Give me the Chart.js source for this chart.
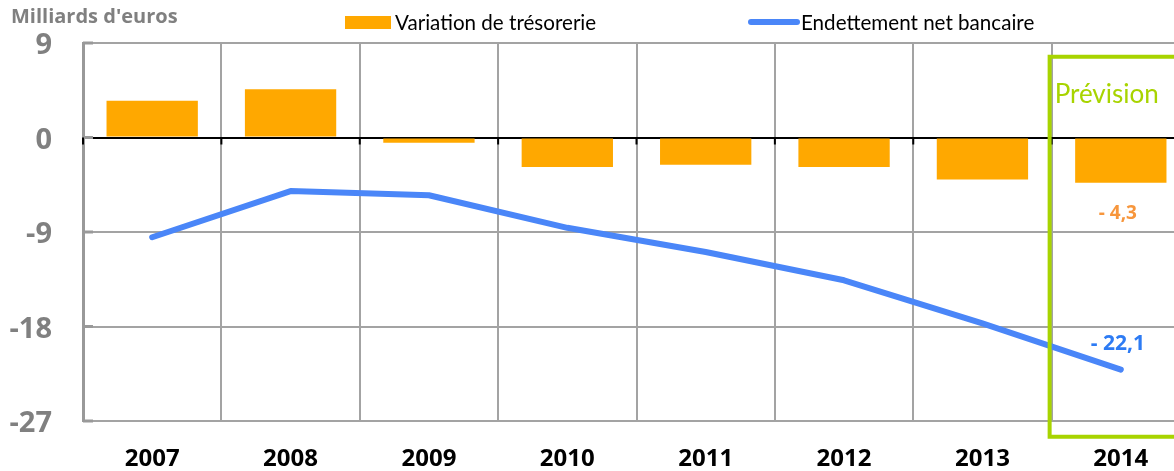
<!DOCTYPE html>
<html lang="fr">
<head>
<meta charset="utf-8">
<script src="https://cdn.jsdelivr.net/npm/chart.js@4.4.1/dist/chart.umd.min.js"></script>
<style>
  html, body { margin: 0; padding: 0; background: #fff; overflow: hidden; }
  #wrap { width: 1174px; height: 471px; overflow: hidden; }
  canvas { display: block; }
</style>
</head>
<body>
<div id="wrap"><canvas id="chart" width="1190" height="471"></canvas></div>
<script>
// --- Data ---
const years = ['2007', '2008', '2009', '2010', '2011', '2012', '2013', '2014'];
const tresorerie = [3.5, 4.6, -0.5, -2.8, -2.6, -2.8, -4.0, -4.3];
const endettement = [-9.5, -5.1, -5.5, -8.6, -10.9, -13.6, -17.7, -22.1];
const yTicks = [9, 0, -9, -18, -27];
const seriesNames = ['Variation de trésorerie', 'Endettement net bancaire'];
const lastLabels = ['- 4,3', '- 22,1'];
const unitLabel = "Milliards d'euros";
const forecastLabel = 'Prévision';

// --- Styles ---
const FONT = "Lato, 'Open Sans', sans-serif";
const BOLD_FONT = "'Open Sans', 'Liberation Sans', sans-serif";
const ORANGE = '#FFA800';
const BLUE = '#4A86F8';
const GREEN = '#A8D400';
const GRID = '#A3A3A3';
const GREY_TXT = '#808080';

// --- Extra drawing: title, legend, forecast box, value labels ---
const decor = {
  id: 'decor',
  beforeDatasetsDraw(chart) {
    const { ctx, scales: { x, y } } = chart;
    const zero = y.getPixelForValue(0);
    ctx.save();
    // short ticks on the y axis
    ctx.strokeStyle = '#999';
    ctx.lineWidth = 3;
    yTicks.forEach(v => {
      const py = y.getPixelForValue(v);
      ctx.beginPath();
      ctx.moveTo(x.left, py);
      ctx.lineTo(x.left + 10, py);
      ctx.stroke();
    });
    // black ticks under the zero line
    ctx.strokeStyle = '#000';
    ctx.lineWidth = 2;
    for (let i = 0; i <= years.length; i++) {
      const px = x.getPixelForValue(i - 0.5);
      ctx.beginPath();
      ctx.moveTo(px, zero);
      ctx.lineTo(px, zero + 7);
      ctx.stroke();
    }
    ctx.restore();
  },
  afterDatasetsDraw(chart) {
    const { ctx, scales: { x, y } } = chart;
    const last = years.length - 1;
    const cx = x.getPixelForValue(last) - 3;
    ctx.save();
    // forecast box
    const bx = x.getPixelForValue(last - 0.5) - 2;
    const top = y.getPixelForValue(7.7);
    const bottom = y.getPixelForValue(-28.5);
    ctx.strokeStyle = GREEN;
    ctx.lineWidth = 4;
    ctx.beginPath();
    ctx.moveTo(chart.width + 10, top);
    ctx.lineTo(bx, top);
    ctx.lineTo(bx, bottom);
    ctx.lineTo(chart.width + 10, bottom);
    ctx.stroke();
    ctx.fillStyle = GREEN;
    ctx.font = '26px ' + FONT;
    ctx.textAlign = 'left';
    ctx.textBaseline = 'middle';
    ctx.fillText(forecastLabel, bx + 5, y.getPixelForValue(4.1));

    // value labels for 2014
    ctx.textAlign = 'center';
    ctx.font = 'bold 19px ' + BOLD_FONT;
    ctx.fillStyle = '#F7963C';
    ctx.fillText(lastLabels[0], cx, y.getPixelForValue(tresorerie[last]) + 31);
    ctx.font = 'bold 21px ' + BOLD_FONT;
    ctx.fillStyle = '#2D7BF4';
    ctx.fillText(lastLabels[1], cx, y.getPixelForValue(endettement[last]) - 26);

    // unit title
    ctx.textAlign = 'left';
    ctx.fillStyle = GREY_TXT;
    ctx.font = 'bold 20px ' + BOLD_FONT;
    ctx.fillText(unitLabel, 11, 17);

    // legend
    ctx.font = '20.6px ' + FONT;
    ctx.fillStyle = ORANGE;
    ctx.fillRect(345, 16, 46, 13);
    ctx.fillStyle = '#000';
    ctx.fillText(seriesNames[0], 395, 23);
    ctx.strokeStyle = BLUE;
    ctx.lineWidth = 6;
    ctx.lineCap = 'round';
    ctx.beginPath();
    ctx.moveTo(751, 22);
    ctx.lineTo(797, 22);
    ctx.stroke();
    ctx.fillStyle = '#000';
    ctx.fillText(seriesNames[1], 801, 23);
    ctx.restore();
  }
};

new Chart(document.getElementById('chart'), {
  type: 'bar',
  data: {
    labels: years,
    datasets: [
      {
        type: 'line',
        label: seriesNames[1],
        data: endettement,
        borderColor: BLUE,
        borderWidth: 6,
        borderCapStyle: 'round',
        borderJoinStyle: 'round',
        pointRadius: 0,
        tension: 0,
        order: 0
      },
      {
        type: 'bar',
        label: seriesNames[0],
        data: tresorerie,
        backgroundColor: ORANGE,
        categoryPercentage: 1,
        barPercentage: 0.66,
        order: 1
      }
    ]
  },
  options: {
    responsive: false,
    animation: false,
    layout: { padding: { top: 43, right: 0, bottom: 0, left: 0 } },
    plugins: {
      legend: { display: false },
      tooltip: { enabled: false }
    },
    scales: {
      x: {
        offset: true,
        grid: { offset: true, color: GRID, lineWidth: 2, drawTicks: false },
        border: { display: false },
        ticks: {
          color: '#000',
          padding: 24,
          font: { family: BOLD_FONT, size: 24, weight: 'bold' }
        },
        afterFit(scale) { scale.height = 50; }
      },
      y: {
        min: -27,
        max: 9,
        afterBuildTicks(scale) { scale.ticks = yTicks.map(v => ({ value: v })); },
        grid: {
          color: ctx => (ctx.tick && ctx.tick.value === 0 ? '#000' : GRID),
          lineWidth: 2,
          drawTicks: false
        },
        border: { color: '#999', width: 3 },
        ticks: {
          color: GREY_TXT,
          padding: 31,
          labelOffset: 3,
          font: { family: BOLD_FONT, size: 29, weight: 'bold', lineHeight: 0.7 }
        },
        afterFit(scale) { scale.width = 83; }
      }
    }
  },
  plugins: [decor]
});
</script>
</body>
</html>
